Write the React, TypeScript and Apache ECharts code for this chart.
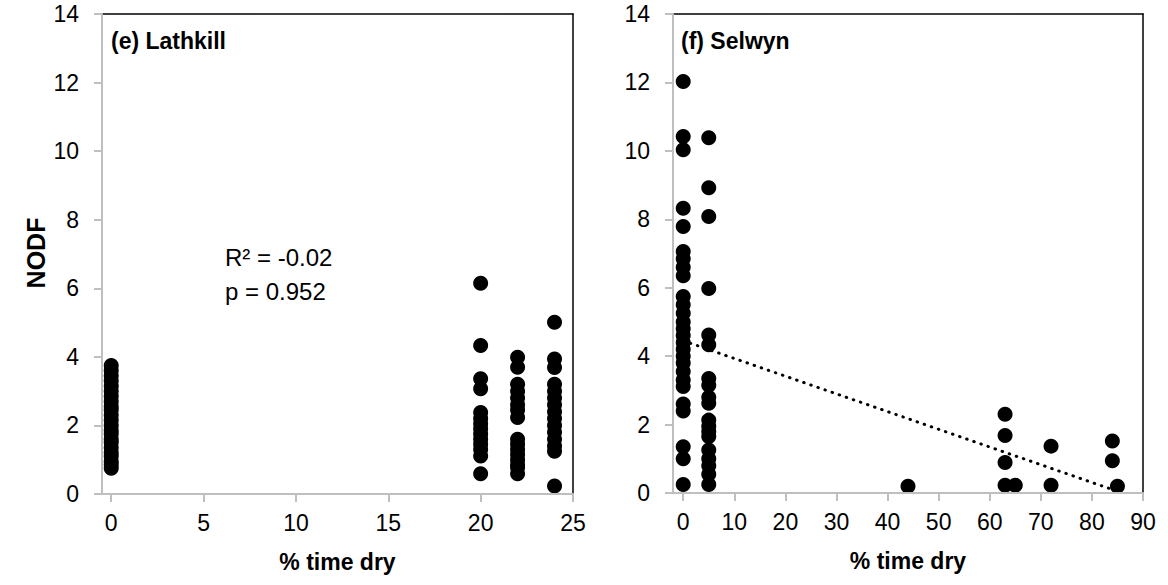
import React, { useEffect, useRef } from "react";
import * as echarts from "echarts";

// ---- Data ----
// Panel (e) Lathkill
const lathkillX0 = [3.75, 3.6, 3.45, 3.3, 3.15, 3.0, 2.85, 2.7, 2.55, 2.45, 2.3, 2.15, 2.0, 1.85, 1.75, 1.6, 1.5, 1.35, 1.2, 1.1, 0.95, 0.85, 0.75];
const lathkillX20 = [6.15, 4.33, 3.36, 3.07, 2.38, 2.2, 2.05, 1.9, 1.75, 1.6, 1.45, 1.3, 1.11, 0.59];
const lathkillX22 = [3.99, 3.7, 3.2, 3.0, 2.8, 2.6, 2.45, 2.23, 1.6, 1.45, 1.3, 1.15, 1.0, 0.85, 0.77, 0.59];
const lathkillX24 = [5.01, 3.94, 3.69, 3.2, 3.0, 2.8, 2.6, 2.4, 2.2, 2.0, 1.8, 1.6, 1.4, 1.25, 0.23];
const lathkillCols = [0, 20, 22, 24];

// Panel (f) Selwyn
const selwynX0 = [12.03, 10.42, 10.03, 8.32, 7.79, 7.06, 6.85, 6.6, 6.35, 5.74, 5.5, 5.25, 5.0, 4.8, 4.6, 4.4, 4.2, 4.0, 3.8, 3.55, 3.3, 3.11, 2.6, 2.4, 1.35, 1.0, 0.25];
const selwynX5 = [10.38, 8.92, 8.08, 5.98, 4.62, 4.33, 3.35, 3.15, 2.8, 2.62, 2.13, 1.95, 1.8, 1.65, 1.26, 1.0, 0.8, 0.55, 0.25];
const selwynOtherX = [44, 63, 63, 63, 63, 65, 72, 72, 84, 84, 85];
const selwynOtherY = [0.2, 2.3, 1.68, 0.89, 0.23, 0.23, 1.37, 0.23, 1.52, 0.94, 0.2];

// Linear trend in panel (f)
const trendX = [0, 85];
const trendY = [4.45, 0.05];

// Tick labels
const leftXTicks = [0, 5, 10, 15, 20, 25];
const rightXTicks = [0, 10, 20, 30, 40, 50, 60, 70, 80, 90];

const FONT = "'Liberation Sans', Arial, sans-serif";

function pairs(x: number, ys: number[]) {
  return ys.map((y) => [x, y]);
}

export default function App() {
  const ref = useRef<HTMLDivElement>(null);

  useEffect(() => {
    if (!ref.current) return;
    const chart = echarts.init(ref.current, undefined, { renderer: "svg" });

    const leftData = [
      ...pairs(lathkillCols[0], lathkillX0),
      ...pairs(lathkillCols[1], lathkillX20),
      ...pairs(lathkillCols[2], lathkillX22),
      ...pairs(lathkillCols[3], lathkillX24),
    ];
    const rightData = [
      ...pairs(0, selwynX0),
      ...pairs(5, selwynX5),
      ...selwynOtherX.map((x, i) => [x, selwynOtherY[i]]),
    ];

    const axisLine = { show: true, onZero: false, lineStyle: { color: "#bfbfbf", width: 2 } };
    const axisTick = { show: true, length: 8, lineStyle: { color: "#bfbfbf", width: 2 } };
    const labelStyle = { color: "#000", fontSize: 23, fontFamily: FONT };

    const yAxisCommon = {
      type: "value",
      min: 0,
      max: 14,
      interval: 2,
      axisLine,
      axisTick: { ...axisTick, inside: false },
      axisLabel: { ...labelStyle, margin: 23 },
      splitLine: { show: false },
      z: 5,
    };

    const borderAxis = {
      type: "value",
      axisLine: { show: true, onZero: false, lineStyle: { color: "#000", width: 1.5 } },
      axisTick: { show: false },
      axisLabel: { show: false },
      splitLine: { show: false },
    };

    const xName = {
      name: "% time dry",
      nameLocation: "middle",
      nameGap: 56,
      nameTextStyle: { color: "#000", fontSize: 23, fontWeight: "bold", fontFamily: FONT },
    };

    const option: any = {
      animation: false,
      backgroundColor: "#fff",
      grid: [
        { left: 102, top: 14, width: 471, height: 480 },
        { left: 673, top: 14, width: 470, height: 479 },
      ],
      xAxis: [
        {
          type: "value",
          gridIndex: 0,
          min: -0.5,
          max: 25,
          axisLine,
          axisTick: { ...axisTick, customValues: leftXTicks },
          axisLabel: { ...labelStyle, margin: 17, customValues: leftXTicks },
          splitLine: { show: false },
          z: 5,
          ...xName,
        },
        {
          type: "value",
          gridIndex: 1,
          min: -2,
          max: 90,
          axisLine,
          axisTick: { ...axisTick, customValues: rightXTicks },
          axisLabel: { ...labelStyle, margin: 17, customValues: rightXTicks },
          splitLine: { show: false },
          z: 5,
          ...xName,
        },
        { ...borderAxis, gridIndex: 0, position: "top", min: -0.5, max: 25 },
        { ...borderAxis, gridIndex: 1, position: "top", min: -2, max: 90 },
      ],
      yAxis: [
        { ...yAxisCommon, gridIndex: 0 },
        { ...yAxisCommon, gridIndex: 1 },
        { ...borderAxis, gridIndex: 0, position: "right", min: 0, max: 14 },
        { ...borderAxis, gridIndex: 1, position: "right", min: 0, max: 14 },
      ],
      series: [
        {
          type: "scatter",
          xAxisIndex: 0,
          yAxisIndex: 0,
          data: leftData,
          symbol: "circle",
          symbolSize: 15,
          itemStyle: { color: "#000", opacity: 1 },
          z: 3,
        },
        {
          type: "scatter",
          xAxisIndex: 1,
          yAxisIndex: 1,
          data: rightData,
          symbol: "circle",
          symbolSize: 15,
          itemStyle: { color: "#000", opacity: 1 },
          z: 3,
        },
        {
          type: "line",
          xAxisIndex: 1,
          yAxisIndex: 1,
          data: trendX.map((x, i) => [x, trendY[i]]),
          symbol: "none",
          lineStyle: { color: "#000", width: 3, type: [0.5, 7], cap: "round" },
          z: 2,
        },
      ],
      graphic: [
        {
          type: "text",
          x: 36,
          y: 253,
          rotation: Math.PI / 2,
          style: { text: "NODF", fontSize: 25, fontWeight: "bold", fontFamily: FONT, fill: "#000", align: "center", verticalAlign: "middle" },
        },
        {
          type: "text",
          x: 111,
          y: 41,
          style: { text: "(e) Lathkill", fontSize: 23, fontWeight: "bold", fontFamily: FONT, fill: "#000", align: "left", verticalAlign: "middle" },
        },
        {
          type: "text",
          x: 681,
          y: 41,
          style: { text: "(f) Selwyn", fontSize: 23, fontWeight: "bold", fontFamily: FONT, fill: "#000", align: "left", verticalAlign: "middle" },
        },
        {
          type: "text",
          x: 225,
          y: 257,
          style: { text: "R² = -0.02", fontSize: 24, fontFamily: FONT, fill: "#000", align: "left", verticalAlign: "middle" },
        },
        {
          type: "text",
          x: 225,
          y: 291,
          style: { text: "p = 0.952", fontSize: 24, fontFamily: FONT, fill: "#000", align: "left", verticalAlign: "middle" },
        },
      ],
    };

    chart.setOption(option);
    return () => chart.dispose();
  }, []);

  return <div ref={ref} style={{ position: "fixed", left: 0, top: 0, width: 1168, height: 585 }} />;
}
